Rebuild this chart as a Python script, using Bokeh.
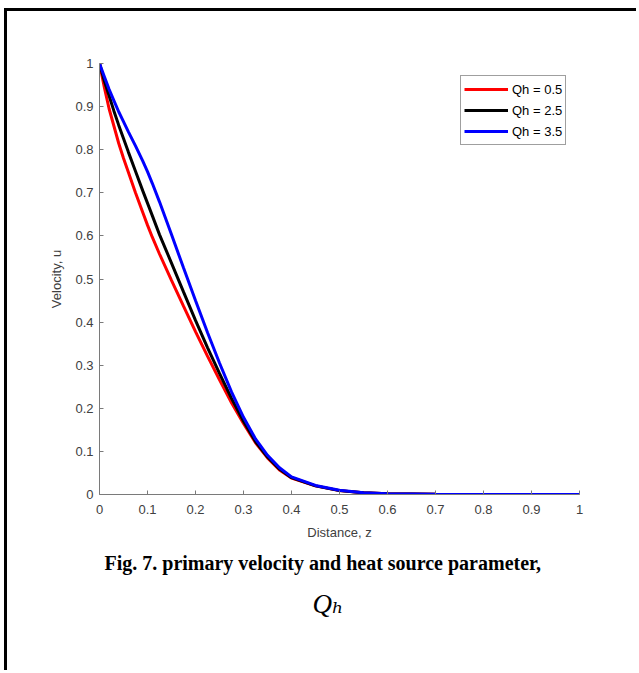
from bokeh.plotting import figure
from bokeh.models import Range1d, Legend, LegendItem, FixedTicker, Title
from bokeh.embed import file_html
from bokeh.resources import INLINE

z = [0, 0.01, 0.02, 0.03, 0.04, 0.05, 0.06, 0.075, 0.09, 0.1, 0.11, 0.125, 0.15, 0.175,
     0.2, 0.225, 0.25, 0.275, 0.3, 0.325, 0.35, 0.375, 0.4, 0.45, 0.5, 0.55, 0.6, 0.7,
     0.8, 0.9, 1.0]

u_qh05 = [1.0, 0.945, 0.895, 0.855, 0.815, 0.78, 0.748, 0.70, 0.655, 0.625, 0.597, 0.558,
          0.497, 0.437, 0.378, 0.321, 0.266, 0.213, 0.165, 0.12, 0.085, 0.057, 0.038, 0.02,
          0.009, 0.004, 0.002, 0.0005, 0.0, 0.0, 0.0]
u_qh25 = [1.0, 0.96, 0.925, 0.89, 0.857, 0.826, 0.795, 0.75, 0.705, 0.676, 0.647, 0.603,
          0.537, 0.47, 0.404, 0.341, 0.281, 0.223, 0.17, 0.123, 0.087, 0.059, 0.039, 0.02,
          0.009, 0.004, 0.002, 0.0005, 0.0, 0.0, 0.0]
u_qh35 = [1.0, 0.97, 0.94, 0.914, 0.888, 0.865, 0.842, 0.809, 0.774, 0.749, 0.722, 0.679,
          0.603, 0.526, 0.45, 0.376, 0.305, 0.238, 0.179, 0.129, 0.091, 0.062, 0.041, 0.021,
          0.01, 0.004, 0.002, 0.0005, 0.0, 0.0, 0.0]

series_labels = ["Qh = 0.5", "Qh = 2.5", "Qh = 3.5"]
series_colors = ["#ff0000", "#000000", "#0000ff"]
ticks = [0, 0.1, 0.2, 0.3, 0.4, 0.5, 0.6, 0.7, 0.8, 0.9, 1]
tick_labels = {0: "0", 0.1: "0.1", 0.2: "0.2", 0.3: "0.3", 0.4: "0.4", 0.5: "0.5",
               0.6: "0.6", 0.7: "0.7", 0.8: "0.8", 0.9: "0.9", 1: "1"}

p = figure(width=632, height=662, output_backend="svg", toolbar_location=None,
           x_range=Range1d(0, 1), y_range=Range1d(0, 1),
           min_border_left=92, min_border_right=60, min_border_top=52, min_border_bottom=179)
p.outline_line_color = None
p.xgrid.visible = False
p.ygrid.visible = False
p.background_fill_color = "white"
p.border_fill_color = "white"

for ax in (p.xaxis[0], p.yaxis[0]):
    ax.ticker = FixedTicker(ticks=ticks)
    ax.major_label_overrides = tick_labels
    ax.minor_tick_line_color = None
    ax.major_tick_in = 4
    ax.major_tick_out = 0
    ax.axis_line_color = "#7a7a7a"
    ax.major_tick_line_color = "#7a7a7a"
    ax.major_label_text_color = "#404040"
    ax.major_label_text_font = "Liberation Sans"
    ax.major_label_text_font_size = "13px"
    ax.axis_label_text_font = "Liberation Sans"
    ax.axis_label_text_font_size = "13px"
    ax.axis_label_text_font_style = "normal"
    ax.axis_label_text_color = "#404040"

p.xaxis.axis_label = "Distance, z"
p.yaxis.axis_label = "Velocity, u"
p.xaxis.major_label_standoff = 10
p.yaxis.major_label_standoff = 6
p.xaxis.axis_label_standoff = 8
p.yaxis.axis_label_standoff = 8

items = []
for u, lab, col in zip([u_qh05, u_qh25, u_qh35], series_labels, series_colors):
    r = p.line(z, u, line_color=col, line_width=3)
    items.append(LegendItem(label=lab, renderers=[r]))

legend = Legend(items=items, location=(361, 349), orientation="vertical")
legend.glyph_width = 44
legend.glyph_height = 20
legend.label_height = 20
legend.label_standoff = 4
legend.padding = 3
legend.spacing = 1
legend.margin = 0
legend.border_line_color = "#404040"
legend.border_line_width = 1
legend.label_text_font = "Liberation Sans"
legend.label_text_font_size = "13px"
legend.label_text_color = "#000000"
p.add_layout(legend)

cap = Title(text="Fig. 7. primary velocity and heat source parameter,", align="left",
            offset=5, text_font="Liberation Serif", text_font_size="20px",
            text_font_style="bold", text_color="black", standoff=15)
p.add_layout(cap, "below")

qh = Title(text="Q\u2095", align="left", offset=213,
           text_font="'Liberation Serif', 'DejaVu Serif', serif", text_font_size="27px",
           text_font_style="italic", text_color="black", standoff=10)
p.add_layout(qh, "below")

p.margin = (8, 0, 0, 4)
p.styles = {"border-top": "3px solid black", "border-left": "3px solid black"}

open("out.html", "w").write(file_html(p, INLINE))
